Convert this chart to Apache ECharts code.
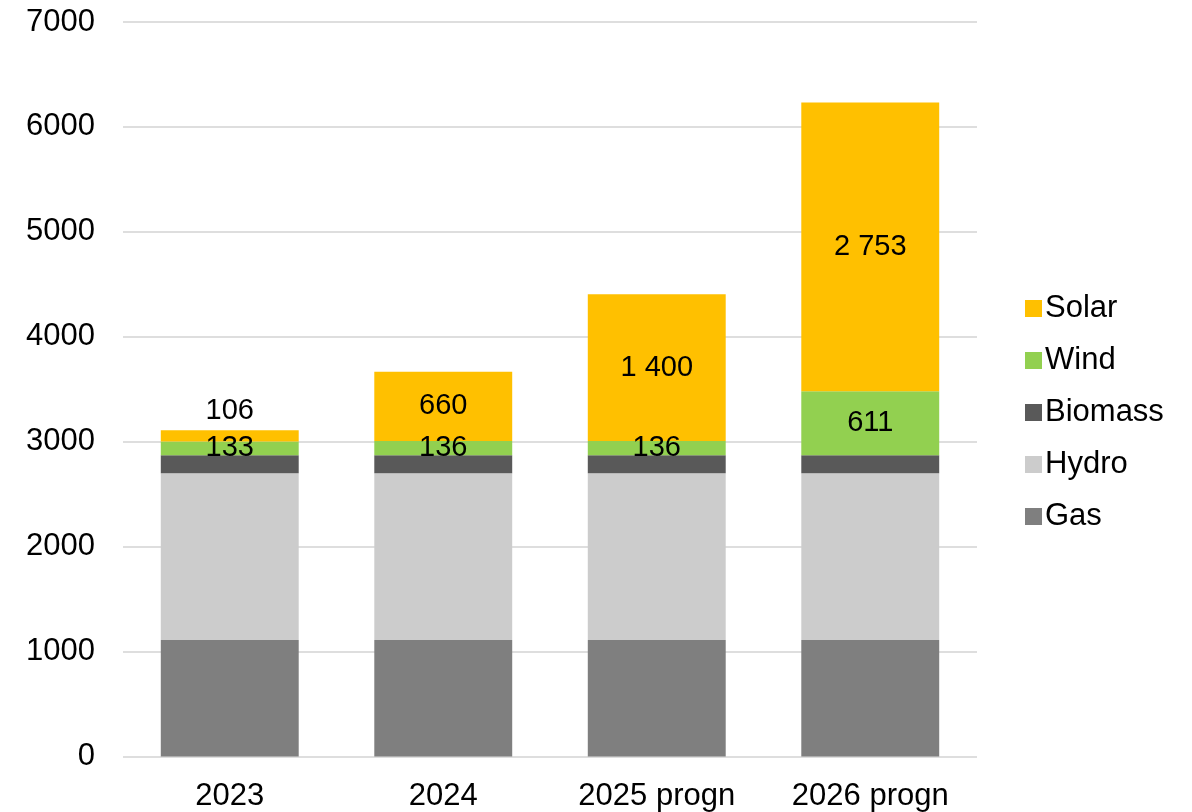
<!DOCTYPE html>
<html>
<head>
<meta charset="utf-8">
<script src="https://cdn.jsdelivr.net/npm/echarts@6/dist/echarts.min.js"></script>
<style>
  html, body { margin: 0; padding: 0; background: #fff; }
  #chart { width: 1192px; height: 812px; }
</style>
</head>
<body>
<div id="chart"></div>
<script>
// Installed capacity by source, stacked per year
const categories = ['2023', '2024', '2025 progn', '2026 progn'];
const gas     = [1110, 1110, 1110, 1110];
const hydro   = [1590, 1590, 1590, 1590];
const biomass = [170, 170, 170, 170];
const wind    = [133, 136, 136, 611];
const solar   = [106, 660, 1400, 2753];
const yTicks  = { min: 0, max: 7000, interval: 1000 };

const FONT = '"Liberation Sans", Arial, sans-serif';
const fmt = v => String(v).replace(/\B(?=(\d{3})+(?!\d))/g, ' ');

// Thin segments get their label placed above the bar instead of inside
function labelled(values, smallTop) {
  return values.map(v => {
    const d = { value: v };
    if (smallTop && v < 120) d.label = { position: 'top', distance: 5 };
    return d;
  });
}

const valueLabel = {
  show: true,
  position: 'inside',
  color: '#000',
  fontSize: 29,
  fontFamily: FONT,
  formatter: p => fmt(p.value)
};

const chart = echarts.init(document.getElementById('chart'), null, { renderer: 'canvas' });
chart.setOption({
  animation: false,
  backgroundColor: '#fff',
  textStyle: { fontFamily: FONT },
  grid: { left: 123, right: 215, top: 22, bottom: 55.5, containLabel: false },
  legend: {
    orient: 'vertical',
    left: 1020,
    top: 288,
    itemWidth: 17,
    itemHeight: 17,
    itemGap: 21,
    icon: 'rect',
    textStyle: { fontSize: 31, lineHeight: 31, color: '#000', fontFamily: FONT, padding: [0, 0, 0, -2] },
    data: ['Solar', 'Wind', 'Biomass', 'Hydro', 'Gas']
  },
  xAxis: {
    type: 'category',
    data: categories,
    axisLine: { show: false },
    axisTick: { show: false },
    axisLabel: { fontSize: 31, color: '#000', margin: 24, fontFamily: FONT }
  },
  yAxis: {
    type: 'value',
    min: yTicks.min,
    max: yTicks.max,
    interval: yTicks.interval,
    axisLine: { show: false },
    axisTick: { show: false },
    axisLabel: { fontSize: 31, color: '#000', margin: 28, fontFamily: FONT, formatter: v => String(v) },
    splitLine: { lineStyle: { color: '#dedede', width: 2 } }
  },
  series: [
    { name: 'Gas', type: 'bar', stack: 'cap', data: gas, barWidth: '64.6%', itemStyle: { color: '#7F7F7F' } },
    { name: 'Hydro', type: 'bar', stack: 'cap', data: hydro, itemStyle: { color: '#CCCCCC' } },
    { name: 'Biomass', type: 'bar', stack: 'cap', data: biomass, itemStyle: { color: '#595959' } },
    { name: 'Wind', type: 'bar', stack: 'cap', data: wind, itemStyle: { color: '#92D050' }, label: valueLabel },
    { name: 'Solar', type: 'bar', stack: 'cap', data: labelled(solar, true), itemStyle: { color: '#FFC000' }, label: valueLabel }
  ]
});
</script>
</body>
</html>
